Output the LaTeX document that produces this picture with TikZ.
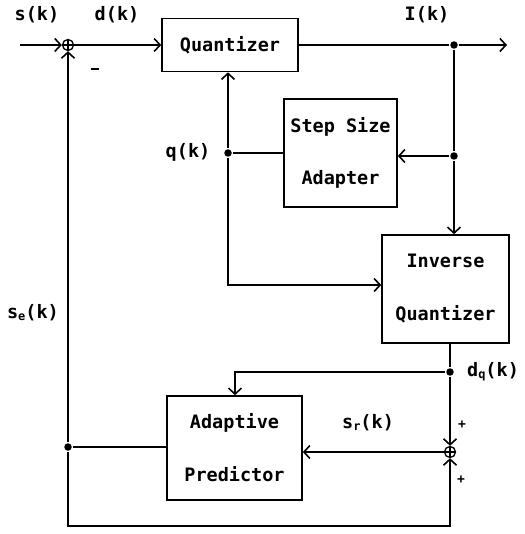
\documentclass[tikz,border=0pt]{standalone}
\usepackage{fontspec}
\setmonofont{DejaVu Sans Mono}
\usetikzlibrary{arrows.meta}
\newcommand{\subsc}[1]{\raisebox{-2pt}{\fontsize{12}{12}\selectfont #1}}
\begin{document}
\begin{tikzpicture}[x=1pt,y=-1pt, line width=1.6pt,
  >={Straight Barb[length=6pt,width=13pt,line width=1.6pt]},
  box/.style={draw, rectangle, inner sep=0pt, align=center, font=\ttfamily\bfseries\fontsize{18.5}{21}\selectfont},
  lbl/.style={font=\ttfamily\bfseries\fontsize{18.5}{21}\selectfont, inner sep=0pt},
  sgn/.style={font=\ttfamily\bfseries\fontsize{13}{13}\selectfont, inner sep=0pt},
  dot/.style={circle, fill, inner sep=0pt, minimum size=7.5pt},
  sumnode/.style={circle, draw, inner sep=0pt, minimum size=11pt, line width=1.3pt,
    path picture={\draw[line width=1.3pt] (path picture bounding box.north) -- (path picture bounding box.south) (path picture bounding box.west) -- (path picture bounding box.east);}}]
\useasboundingbox (0,0) rectangle (524,534);
% blocks
\node[box, minimum width=136pt, minimum height=53pt] (quant) at (230,45) {Quantizer};
\node[box, minimum width=113pt, minimum height=108pt] (ssa) at (340.5,153) {Step Size\\[31pt]Adapter};
\node[box, minimum width=127pt, minimum height=108pt] (iq) at (445.5,289) {Inverse\\[32pt]Quantizer};
\node[box, minimum width=135pt, minimum height=104pt] (ap) at (234.5,448) {Adaptive\\[32pt]Predictor};
% summing junctions
\node[sumnode] (sum1) at (68,45) {};
\node[sumnode] (sum2) at (450,452) {};
% junction dots and free ends
\coordinate (in) at (20,45);
\coordinate (out) at (507,45);
\node[dot] (d1) at (454,45) {};
\node[dot] (d2) at (454,156) {};
\node[dot] (d3) at (228,153) {};
\node[dot] (d4) at (450,372) {};
\node[dot] (d5) at (68,447) {};
\coordinate (c1) at (228,285);
\coordinate (c2) at (235,372);
\coordinate (c3) at (68,526);
% connectors
\draw[->] (in) -- (sum1);
\draw[->] (sum1) -- (quant.west);
\draw[->] (quant.east) -- (d1) -- (out);
\draw (d1) -- (d2);
\draw[->] (d2) -- (d2 |- iq.north);
\draw[->] (d2) -- (ssa.east |- d2);
\draw (ssa.west) -- (d3);
\draw[->] (d3) -- (d3 |- quant.south);
\draw[->] (d3) -- (c1) -- (c1 -| iq.west);
\draw (iq.south -| d4) -- (d4);
\draw[->] (d4) -- (sum2);
\draw[->] (d4) -- (c2) -- (c2 |- ap.north);
\draw[->] (sum2) -- (ap.east |- sum2);
\draw (ap.west |- d5) -- (d5);
\draw[->] (d5) -- (sum1);
\draw[->] (d5) -- (c3) -- (c3 -| sum2) -- (sum2);
% labels
\node[lbl] (ls) at (37,15) {s(k)};
\node[lbl] (ld) at (117,15) {d(k)};
\node[lbl] (lI) at (427,15) {I(k)};
\node[lbl] (lq) at (188,152) {q(k)};
\node[lbl] (lse) at (33,313) {s\subsc{e}(k)};
\node[lbl] (ldq) at (493,372) {d\subsc{q}(k)};
\node[lbl] (lsr) at (368,423) {s\subsc{r}(k)};
\draw[line width=1.8pt] (91,69) -- (99,69);
\node[sgn] (p1) at (462,425) {+};
\node[sgn] (p2) at (461,480) {+};
\end{tikzpicture}
\end{document}
